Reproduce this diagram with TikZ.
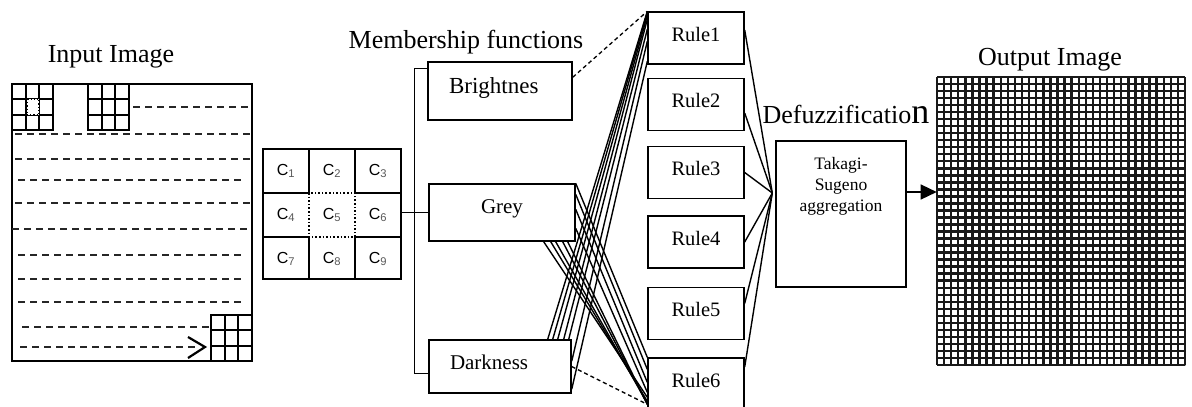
\documentclass[tikz,border=0pt]{standalone}
\usepackage{fontspec}
\setmainfont{Liberation Serif}
\setsansfont{Liberation Sans}
\usetikzlibrary{positioning,arrows.meta}

\begin{document}
\begin{tikzpicture}[x=1pt,y=-1pt,
  mfbox/.style={draw,line width=1.4pt,text height=14pt,font=\rmfamily\fontsize{21}{25}\selectfont},
  rulebox/.style={draw,line width=1.4pt,minimum width=96pt,minimum height=52pt,
    text height=14pt,text depth=7.5pt,font=\rmfamily\fontsize{20.5}{24}\selectfont},
  title/.style={anchor=base,font=\rmfamily\fontsize{26}{30}\selectfont},
  scanline/.style={line width=2.4pt,black!85,dash pattern=on 7pt off 5pt},
  link/.style={line width=1.4pt},
  dlink/.style={line width=1.3pt,dash pattern=on 4pt off 3pt}]
\useasboundingbox (0,0) rectangle (1192,407);

% input image with the sliding window
\node[title] (intitle) at (111,62) {Input Image};
\draw[line width=2.2pt] (12,84) rectangle (252,361);
\foreach \x/\y in {12/84,88/84,211/315}{
  \draw[line width=2.2pt] (\x,\y) rectangle ++(41,46);
  \foreach \i in {1,2}{
    \draw[line width=1.8pt] (\x+\i*13.67,\y) -- ++(0,46);
    \draw[line width=1.8pt] (\x,\y+\i*15.33) -- ++(41,0);
  }
}
\draw[line width=1.2pt,dotted,fill=white] (27,99) rectangle (39,115);
\foreach \a/\b/\y in {133/252/107,15/252/134,15/252/159,18/245/180,15/252/203,
                      12/248/229,18/245/255,18/245/279,18/245/302,22/210/327,20/195/347}
  \draw[scanline] (\a,\y) -- (\b,\y);
\draw[line width=2.2pt] (188,337) -- (205,347) -- (188,358);

% 3x3 window
\node[draw,line width=1.6pt,minimum width=138pt,minimum height=130pt,inner sep=0] (win) at (332,214) {};
\draw[line width=1.6pt] (309,149) -- (309,193) (355,149) -- (355,193)
  (309,237) -- (309,279) (355,237) -- (355,279)
  (263,193) -- (309,193) (355,193) -- (401,193)
  (263,237) -- (309,237) (355,237) -- (401,237);
\draw[line width=1.6pt,dotted] (309,193) rectangle (355,237);
\foreach \r in {0,1,2}
  \foreach \c in {0,1,2}{
    \pgfmathtruncatemacro\n{3*\r+\c+1}
    \node[font=\sffamily\fontsize{16}{18}\selectfont] (c\n) at (286+46*\c,171+44*\r)
      {C\textsubscript{\color{black!65}\n}};
  }

% membership functions
\node[title] (mftitle) at (466,48) {Membership functions};
\node[mfbox,minimum width=144pt,minimum height=58pt,inner xsep=21pt,text width=102pt,align=left,
  text height=15.5pt,text depth=11.3pt,font=\rmfamily\fontsize{23}{27}\selectfont] (bri) at (500,91) {Brightnes};
\node[mfbox,minimum width=146pt,minimum height=57pt,text depth=12pt] (grey) at (502,212.5) {Grey};
\node[mfbox,minimum width=142pt,minimum height=53pt,inner xsep=21pt,text width=100pt,align=left,
  text depth=9pt] (dark) at (500,366.5) {Darkness};
\draw[link] ([yshift=-7pt]bri.north west) -| ([xshift=-14pt,yshift=-7pt]dark.west) -- ([yshift=-7pt]dark.west);
\draw[link] (win.east |- grey.west) -- (grey.west);

% rule base
\foreach \i/\y in {1/38,2/104.5,3/172.5,4/242,5/313.5,6/384}
  \node[rulebox] (r\i) at (696,\y) {Rule\i};

\draw[dlink] ([yshift=-16pt]bri.north east) -- (r1.north west);
\draw[dlink] (dark.east) -- ([yshift=-47pt]r6.north west);
\foreach \sx/\sy/\e in {-24pt/0pt/0pt,-19pt/0pt/-1pt,-14pt/0pt/-4pt,-8pt/0pt/-8pt,
                        -3pt/0pt/-18pt,0pt/-22pt/-30pt,0pt/-50pt/-50pt}
  \draw[link] ([xshift=\sx,yshift=\sy]dark.north east) -- ([yshift=\e]r1.north west);
\foreach \sy/\e in {0pt/0pt,-11pt/-12pt,-26pt/-25pt,-45pt/-35pt}
  \draw[link] ([yshift=\sy]grey.north east) -- ([yshift=\e]r6.north west);
\foreach \sx/\e in {-32pt/-40pt,-25pt/-44pt,-20pt/-46pt,-13pt/-47pt,-8pt/-47pt}
  \draw[link] ([xshift=\sx]grey.south east) -- ([yshift=\e]r6.north west);

% defuzzification
\node[title] (defz) at (846,123) {Defuzzificatio{\fontsize{36}{40}\selectfont n}};
\node[draw,line width=1.4pt,minimum width=130pt,minimum height=146pt] (tsa) at (841,214) {};
\node[anchor=north,inner sep=0,align=center,font=\rmfamily\fontsize{17.5}{21}\selectfont] (tsatxt)
  at ([yshift=-17pt]tsa.north) {Takagi-\\Sugeno\\aggregation};
\coordinate (agg) at ([xshift=-3pt,yshift=21pt]tsa.west);
\foreach \i/\s in {1/8pt,2/-8.5pt,3/0pt,4/0pt,5/10pt,6/17pt}
  \draw[link] ([yshift=\s]r\i.east) -- (agg);

% output image
\node[title] (outtitle) at (1050,65) {Output Image};
\node[draw=black!30,line width=0.6pt,minimum width=248pt,minimum height=288pt,inner sep=0] (outimg) at (1061,221) {};
\foreach \i in {0,...,35}
  \draw[line width=2.4pt,black!90] (937+\i*7.086,77) -- ++(0,288);
\foreach \j in {0,...,41}
  \draw[line width=2.4pt,black!90] (937,77+\j*7.024) -- ++(248,0);
\draw[line width=1.4pt,-{Triangle[length=16pt,width=15pt]}] ([yshift=22pt]tsa.east) coordinate (aout) -- (aout -| outimg.west);
\end{tikzpicture}
\end{document}
